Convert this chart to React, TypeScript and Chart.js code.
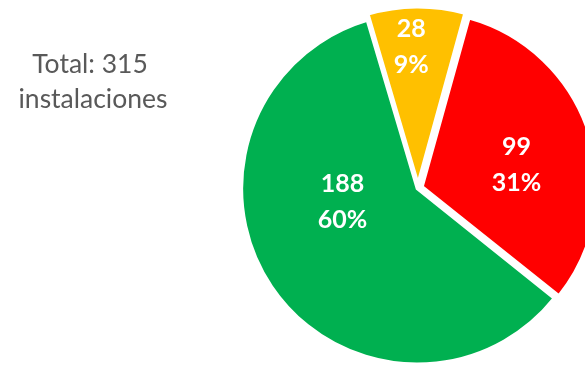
import React, { useEffect, useRef } from "react";
import { Chart, registerables } from "chart.js";

Chart.register(...registerables);

const categories = ["Amarillo", "Rojo", "Verde"];
const values = [28, 99, 188];
const percents = ["9%", "31%", "60%"];
const colors = ["#FFC000", "#FF0000", "#00B050"];
const totalLines = ["Total: 315", "instalaciones"];

// label placement inside each slice: [radius fraction, angle fraction]
const labelRadius = [0.81, 0.58, 0.44];
const labelAngle = [0.43, 0.54, 0.61];
const sliceOffsets = [18, 18, 4];

const FONT = "Lato, 'Liberation Sans', sans-serif";

const labelPlugin = {
  id: "sliceLabels",
  afterDatasetsDraw(chart: any) {
    const ctx = chart.ctx;
    const meta = chart.getDatasetMeta(0);
    ctx.save();
    ctx.fillStyle = "#FFFFFF";
    ctx.font = `bold 25px ${FONT}`;
    ctx.textAlign = "center";
    ctx.textBaseline = "middle";
    meta.data.forEach((arc: any, i: number) => {
      const p = arc.getProps(["x", "y", "startAngle", "endAngle", "outerRadius"], true);
      const a = p.startAngle + labelAngle[i] * (p.endAngle - p.startAngle);
      const r = p.outerRadius * labelRadius[i];
      const cx = p.x + Math.cos(a) * r;
      const cy = p.y + Math.sin(a) * r;
      ctx.fillText(String(values[i]), cx, cy - 18);
      ctx.fillText(percents[i], cx, cy + 18);
    });
    ctx.restore();
  },
};

const totalPlugin = {
  id: "totalText",
  afterDraw(chart: any) {
    const ctx = chart.ctx;
    ctx.save();
    ctx.fillStyle = "#595959";
    ctx.font = `26.5px ${FONT}`;
    ctx.textAlign = "center";
    ctx.textBaseline = "alphabetic";
    ctx.fillText(totalLines[0], 90, 73);
    ctx.fillText(totalLines[1], 93, 108);
    ctx.restore();
  },
};

export default function App() {
  const ref = useRef<HTMLCanvasElement>(null);
  useEffect(() => {
    if (!ref.current) return;
    const chart = new Chart(ref.current, {
      type: "pie",
      data: {
        labels: categories,
        datasets: [
          {
            data: values,
            backgroundColor: colors,
            borderColor: "#FFFFFF",
            borderWidth: 3,
            borderJoinStyle: "miter",
            offset: sliceOffsets,
          },
        ],
      },
      options: {
        responsive: false,
        animation: false,
        rotation: -16.5,
        radius: 174.5,
        layout: { padding: { left: 251, top: 10, right: 0, bottom: 0 } },
        plugins: {
          legend: { display: false },
          tooltip: { enabled: false },
          title: { display: false },
        },
      },
      plugins: [labelPlugin, totalPlugin],
    });
    return () => chart.destroy();
  }, []);
  return (
    <div style={{ position: "fixed", left: 0, top: 0, width: 585, height: 366, background: "#FFFFFF" }}>
      <canvas ref={ref} width={585} height={366} />
    </div>
  );
}
